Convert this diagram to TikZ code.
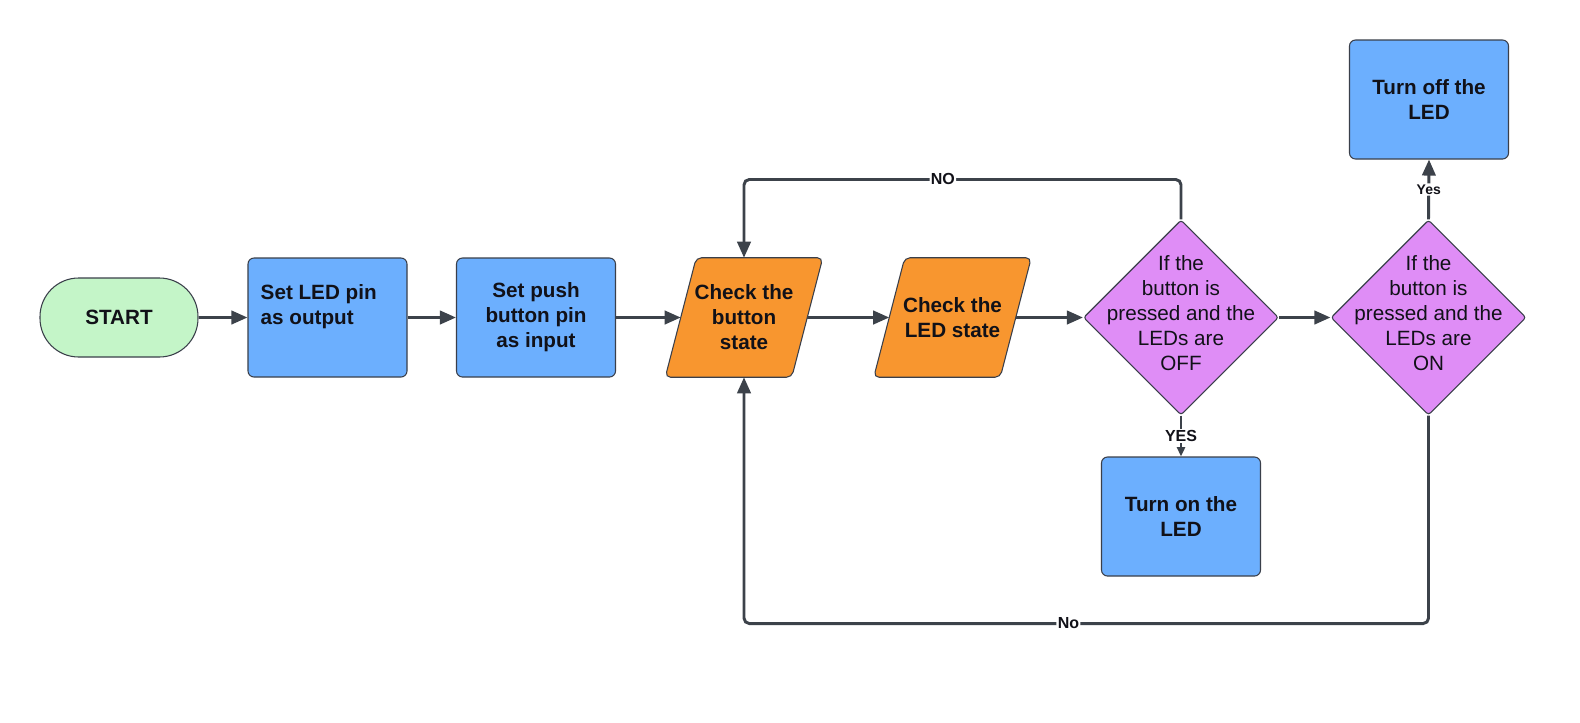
\documentclass[tikz,border=0pt]{standalone}
\usepackage{fontspec}
\setmainfont{Liberation Sans}
\usetikzlibrary{shapes.geometric,arrows.meta,calc,backgrounds}
\definecolor{lineC}{HTML}{3C424A}
\definecolor{edgeC}{HTML}{3A3F4A}
\definecolor{blueC}{HTML}{6CAFFE}
\definecolor{orangeC}{HTML}{F8962F}
\definecolor{purpleC}{HTML}{DF8DF6}
\definecolor{greenC}{HTML}{C4F5C8}
\definecolor{txtC}{HTML}{111118}
\begin{document}
\begin{tikzpicture}[x=0.75pt,y=-0.75pt,
  every node/.style={font=\fontsize{15.5}{18.75}\selectfont, text=txtC},
  bx/.style={draw=edgeC, line width=0.8pt, fill=blueC, rounded corners=4.5pt,
    minimum width=119.25pt, minimum height=89.25pt, inner sep=0pt, align=center, font=\fontsize{15.5}{18.75}\selectfont\bfseries},
  startbox/.style={draw=edgeC, line width=0.8pt, fill=greenC, rounded corners=29pt,
    minimum width=118.5pt, minimum height=59.25pt, inner sep=0pt, font=\fontsize{15.5}{18.75}\selectfont\bfseries},
  parabox/.style={minimum width=94.5pt, minimum height=89.25pt, inner sep=0pt, align=center, font=\fontsize{15.5}{18.75}\selectfont\bfseries},
  parashape/.style={draw=edgeC, line width=0.8pt, fill=orangeC, rounded corners=4pt},
  decide/.style={diamond, aspect=1, draw=edgeC, line width=0.8pt, fill=purpleC, rounded corners=2pt,
    minimum width=146.25pt, minimum height=146.25pt, inner sep=0pt},
  dtext/.style={align=center, inner sep=0pt},
  conn/.style={draw=lineC, line width=2.2pt, rounded corners=4pt, -{Triangle[length=12pt,width=10pt]}},
  smallconn/.style={draw=lineC, line width=2.2pt, -{Triangle[length=7pt,width=6pt]}},
  lab/.style={fill=white, inner sep=1pt, font=\fontsize{12}{14}\selectfont\bfseries},
  smalllab/.style={fill=white, inner sep=1pt, font=\fontsize{10.5}{12}\selectfont\bfseries}
]
\useasboundingbox (0,0) rectangle (1580,722);

\node[startbox] (start) at (119,317.5) {START};
\node[bx] (b1) at (327.5,317.5) {};
\node[align=left, anchor=west, inner sep=0pt, font=\fontsize{15.5}{18.75}\selectfont\bfseries] (b1t) at ($(b1.west)+(13,-11)$) {Set LED pin\\as output};
\node[bx] (b2) at (536,317.5) {Set push\\button pin\\as input};
\node[parabox] (p1) at (744,317.5) {Check the\\button\\state};
\node[parabox] (p2) at (952.5,317.5) {Check the\\LED state};
\node[decide] (d1) at (1181,317.5) {};
\node[dtext] (d1t) at ($(d1)+(0,-4)$) {If the\\button is\\pressed and the\\LEDs are\\OFF};
\node[decide] (d2) at (1428.5,317.5) {};
\node[dtext] (d2t) at ($(d2)+(0,-4)$) {If the\\button is\\pressed and the\\LEDs are\\ON};
\node[bx] (off) at (1429,99.5) {Turn off the\\LED};
\node[bx] (on) at (1181,516.5) {Turn on the\\LED};

\begin{scope}[on background layer]
  \fill[white] (0,0) rectangle (1580,722);
  \draw[parashape] ($(p1.north west)+(15.5,0)$) -- ($(p1.north east)+(15.5,0)$) -- ($(p1.south east)+(-15.5,0)$) -- ($(p1.south west)+(-15.5,0)$) -- cycle;
  \draw[parashape] ($(p2.north west)+(15.5,0)$) -- ($(p2.north east)+(15.5,0)$) -- ($(p2.south east)+(-15.5,0)$) -- ($(p2.south west)+(-15.5,0)$) -- cycle;
\end{scope}

\draw[conn] (start) -- (b1);
\draw[conn] (b1) -- (b2);
\draw[conn] (b2) -- (p1);
\draw[conn] (p1) -- (p2);
\draw[conn] (p2) -- (d1);
\draw[conn] (d1) -- (d2);
\draw[conn] (d1.north) -- ++(0,-40) -- node[lab, pos=0.545] {NO} ++(-437,0) -- (p1.north);
\draw[smallconn] (d1.south) -- node[lab] {YES} (on.north);
\draw[conn] (d2.north) -- node[smalllab] {Yes} (off.south);
\draw[conn] (d2.south) -- ++(0,208) -- node[lab, pos=0.526] {No} ++(-684.5,0) -- (p1.south);
\end{tikzpicture}
\end{document}
